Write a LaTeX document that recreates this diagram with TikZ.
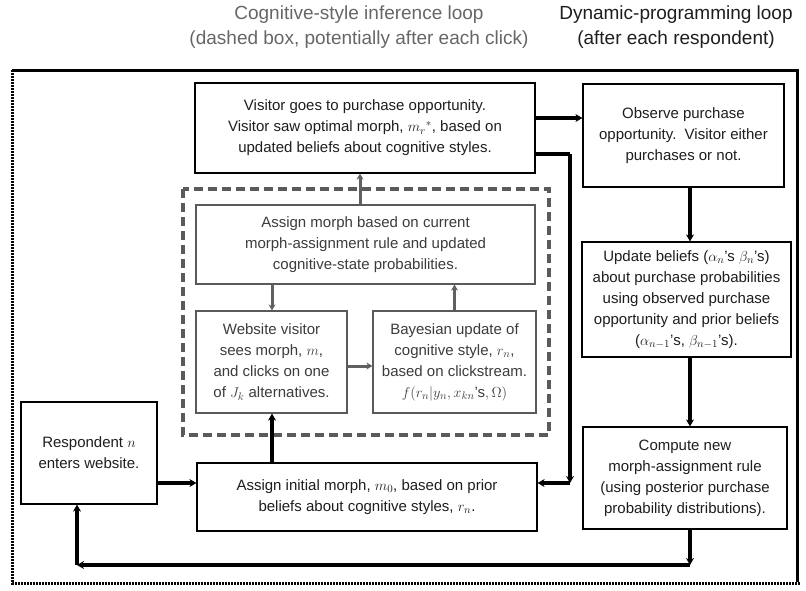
\documentclass[tikz,border=0pt]{standalone}
\usepackage{fontspec}
\setmainfont{Liberation Sans}
\usetikzlibrary{arrows.meta}
\definecolor{txtdark}{HTML}{1E1E1E}
\definecolor{txtgray}{HTML}{3C3C3C}
\definecolor{framegray}{HTML}{5A5A5A}
\definecolor{titlegray}{HTML}{666666}
\definecolor{arrowgray}{HTML}{606060}
\tikzset{
  x=1pt, y=-1pt,
  outerbox/.style={draw=black, line width=1.2pt, fill=white, align=center, text=txtdark,
    font=\fontsize{15}{21}\selectfont, inner sep=2pt},
  innerbox/.style={draw=framegray, line width=1.2pt, fill=white, align=center, text=txtgray,
    font=\fontsize{15}{21}\selectfont, inner sep=2pt},
  blackarrow/.style={draw=black, line width=3.2pt, -{Stealth[length=7pt,width=8pt]}},
  blackline/.style={draw=black, line width=3.2pt},
  grayarrow/.style={draw=arrowgray, line width=3pt, -{Stealth[length=6pt,width=7pt]}},
  titletext/.style={font=\fontsize{19}{25}\selectfont, align=center},
}
\begin{document}
\begin{tikzpicture}
\useasboundingbox (0,0) rectangle (806,590);
% titles
\node[titletext, text=titlegray] (t1) at (359,27) {Cognitive-style inference loop\\(dashed box, potentially after each click)};
\node[titletext, text=txtdark] (t2) at (676,27) {Dynamic-programming loop\\(after each respondent)};
% outer frame
\draw[black, line width=3pt] (12,70) -- (797,70) -- (797,582);
\draw[black, line width=3pt, dash pattern=on 1.6pt off 1.4pt] (12,70) -- (12,583) -- (800,583);
% dashed box
\draw[framegray, line width=4pt, dash pattern=on 9pt off 5pt] (183,189) rectangle (549,435);
% boxes
\node[outerbox, minimum width=340pt, minimum height=90pt] (visit) at (365,128)
  {Visitor goes to purchase opportunity.\\Visitor saw optimal morph, $m_r{}^{*}$, based on\\updated beliefs about cognitive styles.};
\node[outerbox, minimum width=201pt, minimum height=103pt] (observe) at (683.5,135.5)
  {Observe purchase\\opportunity.\ \ Visitor either\\purchases or not.};
\node[outerbox, minimum width=209pt, minimum height=115pt] (update) at (686.5,299.5)
  {Update beliefs ($\alpha_n$'s $\beta_n$'s)\\about purchase probabilities\\using observed purchase\\opportunity and prior beliefs\\($\alpha_{n-1}$'s, $\beta_{n-1}$'s).};
\node[outerbox, minimum width=204pt, minimum height=102pt] (compute) at (685,478)
  {Compute new\\morph-assignment rule\\(using posterior purchase\\probability distributions).};
\node[outerbox, minimum width=136pt, minimum height=102pt] (resp) at (89,453)
  {Respondent $n$\\enters website.};
\node[outerbox, minimum width=340pt, minimum height=68pt] (init) at (367,497)
  {Assign initial morph, $m_0$, based on prior\\beliefs about cognitive styles, $r_n$.};
\node[innerbox, minimum width=339pt, minimum height=79pt] (assign) at (365.5,244.5)
  {Assign morph based on current\\morph-assignment rule and updated\\cognitive-state probabilities.};
\node[innerbox, minimum width=151pt, minimum height=102pt] (web) at (271.5,362)
  {Website visitor\\sees morph, $m$,\\and clicks on one\\of $J_k$ alternatives.};
\node[innerbox, minimum width=163pt, minimum height=102pt] (bayes) at (454.5,362)
  {Bayesian update of\\cognitive style, $r_n$,\\based on clickstream.\\$f(r_n|y_n,x_{kn}$'s$,\Omega)$};
% helper coordinates
\coordinate (xa) at (360,0);
\coordinate (xb) at (272,0);
\coordinate (yc) at (0,366);
\coordinate (yd) at (0,483);
\coordinate (ye) at (0,118);
\coordinate (yf) at (0,154);
\coordinate (xg) at (570,0);
\coordinate (xh) at (690,0);
\coordinate (xi) at (77,0);
\coordinate (yj) at (0,565);
\coordinate (cg1) at (xg |- yf);
\coordinate (cg2) at (xg |- yd);
\coordinate (ch1) at (xh |- yj);
\coordinate (ch2) at (xi |- yj);
% inner loop arrows
\draw[grayarrow] (assign.north -| xa) -- (visit.south -| xa);
\draw[grayarrow] (assign.south -| xb) -- (web.north -| xb);
\draw[grayarrow] (web.east |- yc) -- (bayes.west |- yc);
\draw[grayarrow] (bayes.north) -- (assign.south -| bayes.north);
% main arrows
\draw[blackarrow] (init.north -| xb) -- (web.south -| xb);
\draw[blackarrow] (resp.east |- yd) -- (init.west |- yd);
\draw[blackarrow] (visit.east |- ye) -- (observe.west |- ye);
\draw[blackline] (visit.east |- yf) -- (cg1);
\draw[blackarrow] (cg1) -- (cg2);
\draw[blackarrow] (cg2) -- (init.east |- yd);
\draw[blackarrow] (observe.south -| xh) -- (update.north -| xh);
\draw[blackarrow] (update.south -| xh) -- (compute.north -| xh);
\draw[blackarrow] (compute.south -| xh) -- (ch1);
\draw[blackarrow] (ch1) -- (ch2);
\draw[blackarrow] (ch2) -- (resp.south -| xi);
\end{tikzpicture}
\end{document}
